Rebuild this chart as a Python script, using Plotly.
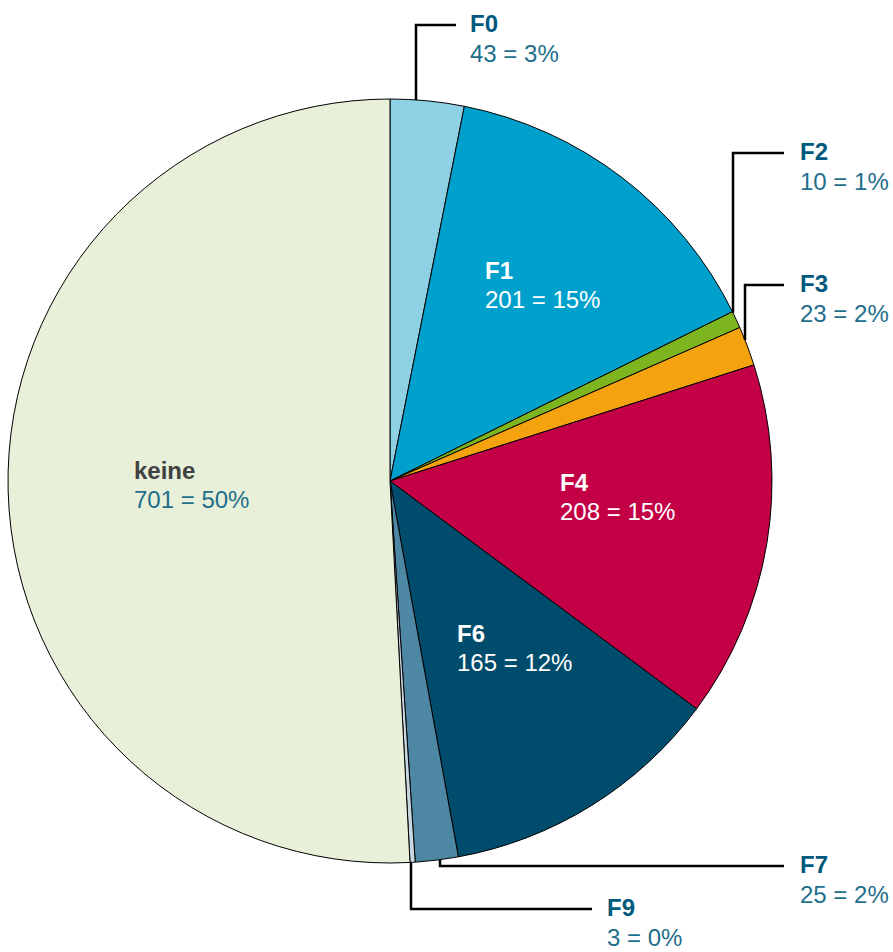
import math
import plotly.graph_objects as go

# ---- data ----
categories = ["F0", "F1", "F2", "F3", "F4", "F6", "F7", "F9", "keine"]
counts = [43, 201, 10, 23, 208, 165, 25, 3, 701]
pct_labels = ["3%", "15%", "1%", "2%", "15%", "12%", "2%", "0%", "50%"]
colors = ["#8FD1E4", "#00A0CC", "#7DB51E", "#F5A20F", "#C30046",
          "#004C6C", "#4D87A3", "#C8D8E2", "#E8F0D9"]

W, H = 893, 952
CX, CY, R = 390, 481, 382

fig = go.Figure()
fig.add_trace(go.Pie(
    labels=categories, values=counts, sort=False, direction="clockwise",
    rotation=0, textinfo="none", hoverinfo="label+value+percent",
    marker=dict(colors=colors, line=dict(color="#000000", width=1)),
    domain=dict(x=[(CX - R) / W, (CX + R) / W],
                y=[(H - CY - R) / H, (H - CY + R) / H]),
    showlegend=False,
))

inside = {"F1": (483, 270), "F4": (558, 482), "F6": (455, 633), "keine": (132, 470)}
inside_title_color = {"F1": "white", "F4": "white", "F6": "white", "keine": "#404040"}
inside_value_color = {"F1": "white", "F4": "white", "F6": "white", "keine": "#1F6E8C"}
# outside: (leader x at pie edge, elbow y, line end x, text x)
outside = {"F0": (416, 25, 456, 468), "F2": (733, 153, 784, 798),
           "F3": (745, 285, 784, 798), "F7": (440, 866, 784, 798),
           "F9": (411, 909, 592, 605)}

annotations = []
shapes = []
FAM = "Liberation Sans, Arial, sans-serif"
title_font = dict(family=FAM, size=24)
val_font = dict(family=FAM, size=24)

for cat, n, p in zip(categories, counts, pct_labels):
    if cat in inside:
        x, y = inside[cat]
        annotations.append(dict(x=x, y=y, text=f"<b>{cat}</b>", showarrow=False,
                                xanchor="left", yanchor="middle",
                                font=dict(title_font, color=inside_title_color[cat])))
        annotations.append(dict(x=x, y=y + 29, text=f"{n} = {p}", showarrow=False,
                                xanchor="left", yanchor="middle",
                                font=dict(val_font, color=inside_value_color[cat])))
    elif cat in outside:
        lx, ey, endx, tx = outside[cat]
        dy = math.sqrt(R * R - (lx - CX) ** 2)
        edge_y = CY - dy if ey < CY else CY + dy
        shapes.append(dict(type="path", xref="x", yref="y",
                           path=f"M {lx},{edge_y} L {lx},{ey} L {endx},{ey}",
                           line=dict(color="black", width=2.5)))
        annotations.append(dict(x=tx, y=ey - 2, text=f"<b>{cat}</b>", showarrow=False,
                                xanchor="left", yanchor="middle",
                                font=dict(title_font, color="#005A7D")))
        annotations.append(dict(x=tx, y=ey + 28, text=f"{n} = {p}", showarrow=False,
                                xanchor="left", yanchor="middle",
                                font=dict(val_font, color="#1F6E8C")))

fig.update_layout(
    width=W, height=H, margin=dict(l=0, r=0, t=0, b=0),
    paper_bgcolor="white", plot_bgcolor="rgba(0,0,0,0)",
    xaxis=dict(range=[0, W], visible=False, fixedrange=True),
    yaxis=dict(range=[H, 0], visible=False, fixedrange=True),
    annotations=annotations, shapes=shapes,
)
fig.write_html("out.html", config={"displayModeBar": False},
               post_script="document.body.style.margin='0';"
                           "document.body.style.overflow='hidden';")
